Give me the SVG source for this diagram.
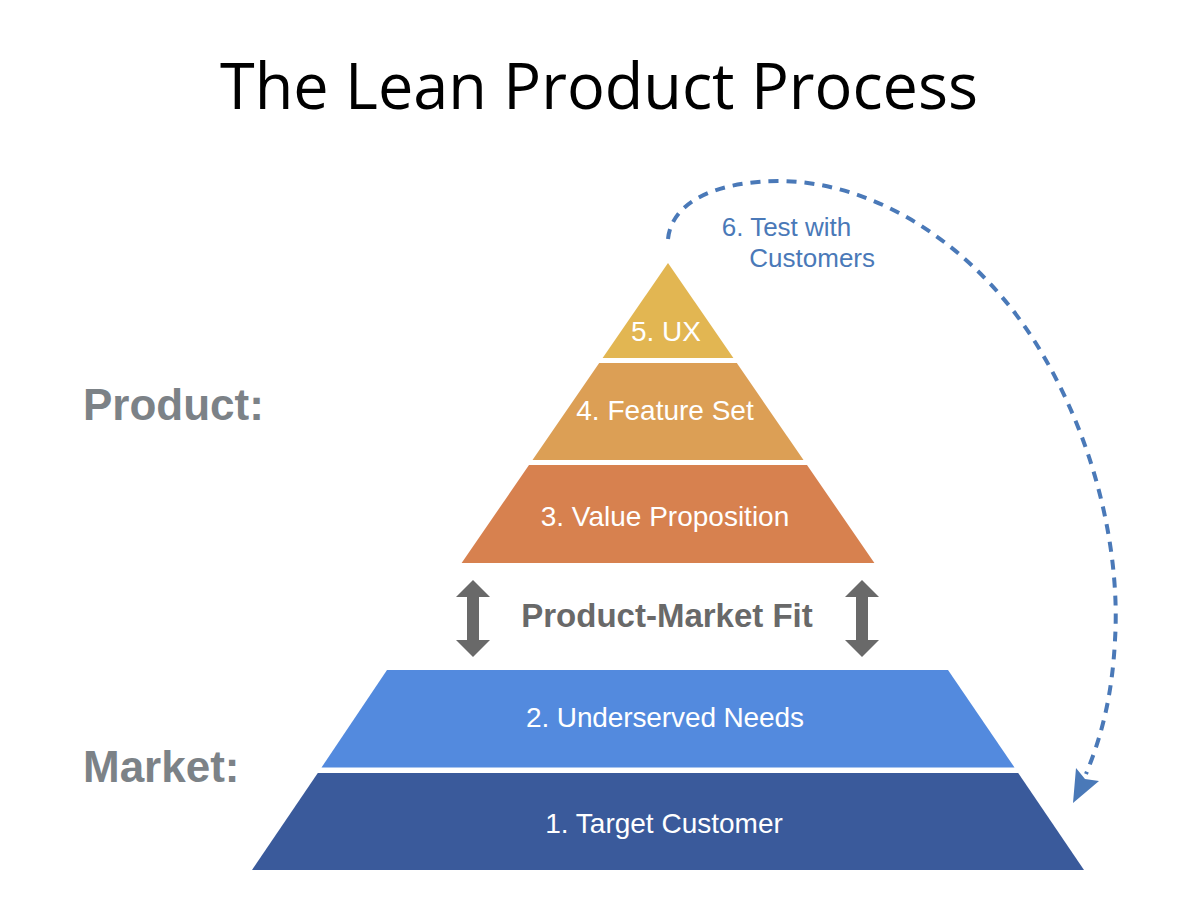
<svg xmlns="http://www.w3.org/2000/svg" width="1200" height="900" viewBox="0 0 1200 900">
  <style>
    .lbl { font-family: "Liberation Sans", Arial, sans-serif; fill: #ffffff; font-size: 28px; text-anchor: middle; }
    .side { font-family: "Liberation Sans", Arial, sans-serif; font-weight: bold; fill: #7c8287; font-size: 44px; }
    .pmf { font-family: "Liberation Sans", Arial, sans-serif; font-weight: bold; fill: #696969; font-size: 33px; text-anchor: middle; }
    .test { font-family: "Liberation Sans", Arial, sans-serif; fill: #4a79b8; font-size: 26px; }
    .dash { fill: none; stroke: #4a79b8; stroke-width: 4; stroke-dasharray: 10 8; }
    .dbl { fill: #696969; }
  </style>
  <rect width="1200" height="900" fill="#ffffff"/>

  <g id="title">
    <text x="599" y="109" font-family="Open Sans, Liberation Sans, sans-serif" font-size="64" fill="#000000" text-anchor="middle" textLength="758" lengthAdjust="spacingAndGlyphs">The Lean Product Process</text>
  </g>

  <g id="label-product">
    <text class="side" x="83" y="420">Product:</text>
  </g>
  <g id="label-market">
    <text class="side" x="83" y="782">Market:</text>
  </g>

  <g id="node-5-ux">
    <polygon points="668,263 733.4,358 602.6,358" fill="#e2b652"/>
    <text class="lbl" x="666" y="341" font-size="26">5. UX</text>
  </g>
  <g id="node-4-feature-set">
    <polygon points="599.2,363 736.8,363 803.5,460 532.5,460" fill="#dc9f55"/>
    <text class="lbl" x="665" y="420">4. Feature Set</text>
  </g>
  <g id="node-3-value-proposition">
    <polygon points="529,465 807,465 874.4,563 461.6,563" fill="#d7814f"/>
    <text class="lbl" x="665" y="526">3. Value Proposition</text>
  </g>

  <g id="node-pmf">
    <text class="pmf" x="667" y="627">Product-Market Fit</text>
  </g>

  <g id="node-2-underserved-needs">
    <polygon points="387,670 948,670 1014.5,767.5 321.5,767.5" fill="#538ade"/>
    <text class="lbl" x="665" y="727" textLength="278">2. Underserved Needs</text>
  </g>
  <g id="node-1-target-customer">
    <polygon points="317.8,773 1018.2,773 1084,870 252,870" fill="#3a5a9b"/>
    <text class="lbl" x="664" y="833">1. Target Customer</text>
  </g>

  <g id="node-6-test">
    <text class="test" x="721.7" y="236">6. Test with</text>
    <text class="test" x="749.3" y="266.7">Customers</text>
  </g>

  <g id="connectors">
    <path class="dash" d="M668,239 C672,200 720,181 780,181 C880,182 980,250 1040,350 C1100,450 1120,560 1115,640 C1112,700 1100,740 1086,774"/>
    <polygon points="1073,803 1076,768 1085,779 1099,781" fill="#4a79b8"/>
    <polygon class="dbl" points="473,580 490,597 479,597 479,640 490,640 473,657 456,640 467,640 467,597 456,597"/>
    <polygon class="dbl" points="862,580 879,597 868,597 868,640 879,640 862,657 845,640 856,640 856,597 845,597"/>
  </g>
</svg>
